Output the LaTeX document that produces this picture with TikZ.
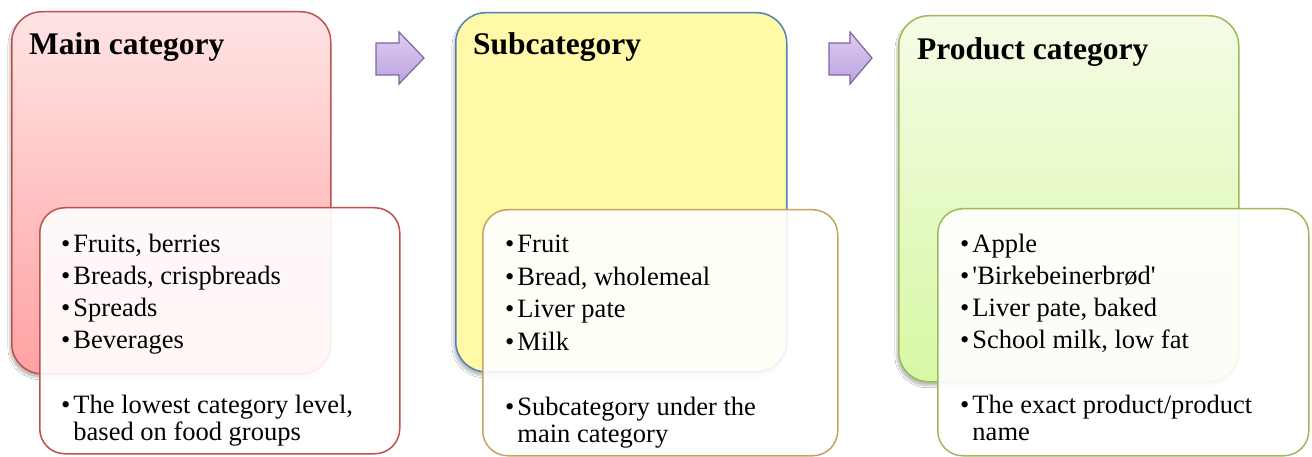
\documentclass[tikz,border=0pt]{standalone}
\usepackage{fontspec}
\setmainfont{Liberation Serif}
\usetikzlibrary{shadows.blur}
\definecolor{redline}{HTML}{C0504D}
\definecolor{redtop}{HTML}{FFE4E4}
\definecolor{redbot}{HTML}{FFA2A2}
\definecolor{blueline}{HTML}{4F81BD}
\definecolor{yellowfill}{HTML}{FFF9A8}
\definecolor{goldline}{HTML}{C4A35A}
\definecolor{greenline}{HTML}{9BBB59}
\definecolor{greentop}{HTML}{F4FCE6}
\definecolor{greenbot}{HTML}{D8F8A4}
\definecolor{arrowline}{HTML}{8064A2}
\definecolor{arrowtop}{HTML}{DDCDF2}
\definecolor{arrowbot}{HTML}{BBA3E0}
\newcommand\myb{\textbullet\hspace{3pt}}
\newcommand\myind{\phantom{\textbullet}\hspace{3pt}}
\begin{document}
\begin{tikzpicture}[x=1pt,y=-1pt,
  outerbox/.style={rounded corners=30pt, line width=1.5pt, anchor=north west, inner sep=0pt,
     blur shadow={shadow xshift=-2pt, shadow yshift=-4pt, shadow opacity=25, shadow blur steps=6}},
  innerbox/.style={rounded corners=25pt, line width=1.5pt, anchor=north west, inner sep=0pt,
     fill=white, fill opacity=0.9, draw opacity=1},
  title/.style={anchor=base west, inner sep=0pt, font=\fontsize{31.5}{36}\selectfont\bfseries},
  item/.style={anchor=base west, inner sep=0pt, font=\fontsize{26.5}{30}\selectfont},
  blockarrow/.style={draw=arrowline, line width=1.2pt, top color=arrowtop, bottom color=arrowbot, line join=miter}
]
\useasboundingbox (0,0) rectangle (1312,457);
\fill[white] (0,0) rectangle (1312,457);

% outer boxes
\node[outerbox, draw=redline, top color=redtop, bottom color=redbot,
      minimum width=319pt, minimum height=362pt] (main) at (11,11) {};
\node[outerbox, draw=blueline, fill=yellowfill,
      minimum width=331pt, minimum height=359pt] (sub) at (455,12) {};
\node[outerbox, draw=greenline, top color=greentop, bottom color=greenbot,
      minimum width=340pt, minimum height=366pt] (prod) at (898,15) {};

% titles
\node[title] (t1) at (29,55) {Main category};
\node[title] (t2) at (473,55) {Subcategory};
\node[title] (t3) at (917,60) {Product category};

% block arrows
\draw[blockarrow] (376,43) -- (399,43) -- (399,32) -- (424,58) -- (399,84) -- (399,75) -- (376,75) -- cycle;
\draw[blockarrow] (829,43) -- (850,43) -- (850,32) -- (872,58) -- (850,84) -- (850,75) -- (829,75) -- cycle;

% inner boxes
\node[innerbox, draw=redline, minimum width=360pt, minimum height=246pt] (in1) at (39,207) {};
\node[innerbox, draw=goldline, minimum width=355pt, minimum height=246pt] (in2) at (482,209) {};
\node[innerbox, draw=greenline, minimum width=371pt, minimum height=247pt] (in3) at (937,208) {};

% texts box 1
\node[item] (a1) at (61,252) {\myb Fruits, berries};
\node[item] (a2) at (61,284) {\myb Breads, crispbreads};
\node[item] (a3) at (61,316) {\myb Spreads};
\node[item] (a4) at (61,348) {\myb Beverages};
\node[item] (a5) at (61,413) {\myb The lowest category level,};
\node[item] (a6) at (61,440) {\myind based on food groups};

% texts box 2
\node[item] (b1) at (505,253) {\myb Fruit};
\node[item] (b2) at (505,285) {\myb Bread, wholemeal};
\node[item] (b3) at (505,317) {\myb Liver pate};
\node[item] (b4) at (505,350) {\myb Milk};
\node[item] (b5) at (505,415) {\myb Subcategory under the};
\node[item] (b6) at (505,442) {\myind main category};

% texts box 3
\node[item] (c1) at (960,252) {\myb Apple};
\node[item] (c2) at (960,284) {\myb \textquotesingle Birkebeinerbrød\textquotesingle};
\node[item] (c3) at (960,316) {\myb Liver pate, baked};
\node[item] (c4) at (960,348) {\myb School milk, low fat};
\node[item] (c5) at (960,413) {\myb The exact product/product};
\node[item] (c6) at (960,440) {\myind name};
\end{tikzpicture}
\end{document}
